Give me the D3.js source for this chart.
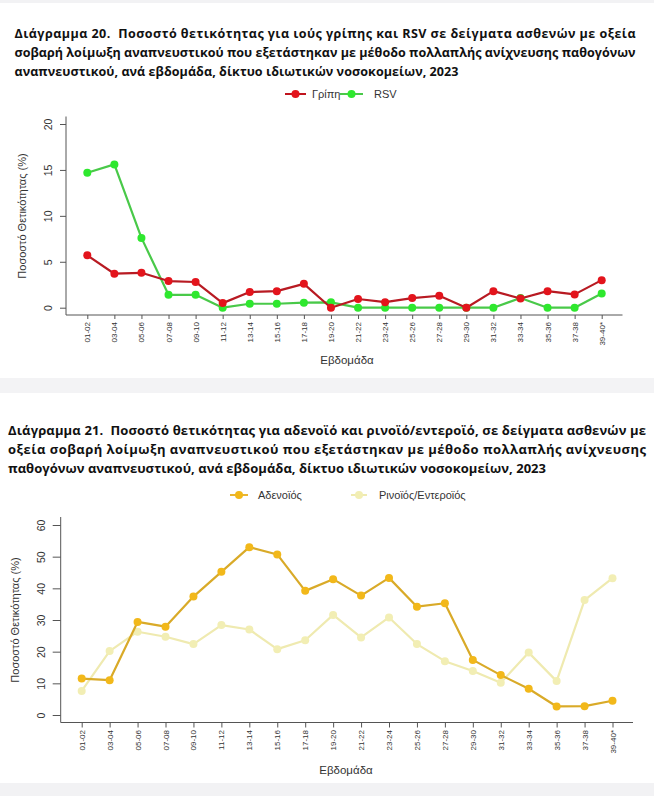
<!DOCTYPE html>
<html><head><meta charset="utf-8">
<script src="https://cdn.jsdelivr.net/npm/d3@7"></script>
<style>
html,body{margin:0;padding:0;background:#fff;}
svg{display:block;}
</style></head>
<body>
<svg id="c" width="654" height="796"></svg>
<script>
// ---- data ----
const weeks = ["01-02","03-04","05-06","07-08","09-10","11-12","13-14","15-16","17-18","19-20","21-22","23-24","25-26","27-28","29-30","31-32","33-34","35-36","37-38","39-40*"];
const flu = [5.7,3.7,3.8,2.9,2.8,0.5,1.7,1.8,2.6,0.0,0.95,0.6,1.05,1.3,0.0,1.8,1.0,1.8,1.45,3.0];
const rsv = [14.7,15.6,7.6,1.4,1.4,0.0,0.43,0.43,0.55,0.58,0.0,0.0,0.0,0.0,0.0,0.0,1.05,0.0,0.0,1.55];
const adeno = [11.5,11.0,29.4,27.9,37.4,45.2,53.0,50.7,39.2,42.9,37.7,43.3,34.2,35.3,17.4,12.6,8.3,2.7,2.8,4.5];
const rhino = [7.6,20.2,26.3,24.7,22.4,28.4,27.0,20.8,23.6,31.6,24.5,30.8,22.4,17.0,13.9,10.2,19.7,10.7,36.3,43.2];
const ticks1 = [0,5,10,15,20];
const ticks2 = [0,10,20,30,40,50,60];
const title1 = ["Διάγραμμα 20.  Ποσοστό θετικότητας για ιούς γρίπης και RSV σε δείγματα ασθενών με οξεία",
  "σοβαρή λοίμωξη αναπνευστικού που εξετάστηκαν με μέθοδο πολλαπλής ανίχνευσης παθογόνων",
  "αναπνευστικού, ανά εβδομάδα, δίκτυο ιδιωτικών νοσοκομείων, 2023"];
const title2 = ["Διάγραμμα 21.  Ποσοστό θετικότητας για αδενοϊό και ρινοϊό/εντεροϊό, σε δείγματα ασθενών με",
  "οξεία σοβαρή λοίμωξη αναπνευστικού που εξετάστηκαν με μέθοδο πολλαπλής ανίχνευσης",
  "παθογόνων αναπνευστικού, ανά εβδομάδα, δίκτυο ιδιωτικών νοσοκομείων, 2023"];
const yTitle = "Ποσοστό Θετικότητας (%)";
const xTitle = "Εβδομάδα";

const svg = d3.select("#c");
const AX = "Liberation Sans, Arial, sans-serif";
const TF = "Open Sans, Noto Sans, sans-serif";

// background bands
svg.append("rect").attr("x",0).attr("y",0).attr("width",654).attr("height",3).attr("fill","#f2f2f4");
svg.append("rect").attr("x",0).attr("y",378).attr("width",654).attr("height",15).attr("fill","#f3f3f5");
svg.append("rect").attr("x",0).attr("y",783).attr("width",654).attr("height",13).attr("fill","#f2f2f4");

function drawTitle(lines, x0, ys, widths){
  const base = 13.4;
  const nodes = lines.map((t,i)=>svg.append("text").attr("x",x0).attr("y",ys[i])
      .style("white-space","pre")
      .attr("font-family",TF).attr("font-weight",700).attr("font-size",base)
      .attr("fill","#111").text(t));
  // one font size per block so that the natural width fits each target width
  let k = 1;
  nodes.forEach((n,i)=>{ const w = n.node().getComputedTextLength(); k = Math.min(k, (widths[i]-2)/w); });
  nodes.forEach((n,i)=>{
    n.attr("font-size", base*k)
     .attr("textLength",widths[i]).attr("lengthAdjust","spacing");
  });
}
drawTitle(title1, 14.5, [38,57,76], [621,621,444]);
drawTitle(title2, 8, [435,454,473], [638,638,538]);

function chart(cfg){
  const g = svg.append("g");
  const x = d3.scalePoint().domain(weeks).range(cfg.xr);
  const y = d3.scaleLinear().domain(cfg.yd).range(cfg.yr);
  // axis frame lines (bty="l")
  g.append("line").attr("x1",cfg.px[0]).attr("x2",cfg.px[0]).attr("y1",cfg.py[0]).attr("y2",cfg.py[1]).attr("stroke","#555").attr("stroke-width",1);
  g.append("line").attr("x1",cfg.px[0]).attr("x2",cfg.px[1]).attr("y1",cfg.py[1]).attr("y2",cfg.py[1]).attr("stroke","#555").attr("stroke-width",1);
  // y axis
  const ya = g.append("g").attr("transform",`translate(${cfg.px[0]},0)`)
    .call(d3.axisLeft(y).tickValues(cfg.ticks).tickSize(cfg.tickLen).tickSizeOuter(0).tickPadding(0));
  ya.select(".domain").remove();
  ya.selectAll(".tick line").attr("stroke","#555");
  ya.selectAll(".tick text").attr("font-family",AX).attr("font-size",10.5).attr("fill","#333")
    .attr("text-anchor","middle").attr("x",0).attr("dy",0)
    .attr("transform",`translate(${cfg.ylabX - cfg.px[0]},0) rotate(-90)`).attr("y",0)
    .attr("dominant-baseline","central");
  // x axis
  const xa = g.append("g").attr("transform",`translate(0,${cfg.py[1]})`)
    .call(d3.axisBottom(x).tickSize(cfg.xTickLen).tickSizeOuter(0));
  xa.select(".domain").remove();
  xa.selectAll(".tick line").attr("stroke","#555");
  xa.selectAll(".tick text").attr("font-family",AX).attr("font-size",8).attr("fill","#333")
    .attr("text-anchor","end").attr("x",0).attr("dy",0).attr("y",0)
    .attr("dominant-baseline","central")
    .attr("transform",`translate(0,${cfg.xlabTop - cfg.py[1]}) rotate(-90)`);
  // titles
  g.append("text").attr("transform",`translate(${cfg.ytX},${cfg.ytY}) rotate(-90)`)
    .attr("text-anchor","middle").attr("dominant-baseline","central")
    .attr("font-family",AX).attr("font-size",11).attr("fill","#333").text(yTitle);
  g.append("text").attr("x",cfg.xtX).attr("y",cfg.xtY)
    .attr("text-anchor","middle").attr("dominant-baseline","central")
    .attr("font-family",AX).attr("font-size",11.5).attr("fill","#333").text(xTitle);
  // series
  const line = d3.line().x((d,i)=>x(weeks[i])).y(d=>y(d));
  cfg.series.forEach(s=>{
    g.append("path").datum(s.values).attr("d",line).attr("fill","none")
      .attr("stroke",s.line).attr("stroke-width",2.2).attr("stroke-linejoin","round");
    g.selectAll(null).data(s.values).enter().append("circle")
      .attr("cx",(d,i)=>x(weeks[i])).attr("cy",d=>y(d)).attr("r",cfg.r).attr("fill",s.marker);
  });
  // legend
  cfg.legend.forEach(l=>{
    g.append("line").attr("x1",l.x1).attr("x2",l.x2).attr("y1",cfg.legY).attr("y2",cfg.legY)
      .attr("stroke",l.line).attr("stroke-width",2);
    g.append("circle").attr("cx",(l.x1+l.x2)/2).attr("cy",cfg.legY).attr("r",cfg.r).attr("fill",l.marker);
    g.append("text").attr("x",l.tx).attr("y",cfg.legY).attr("dominant-baseline","central")
      .attr("font-family",AX).attr("font-size",11).attr("fill","#333").text(l.name);
  });
}

chart({
  xr:[87.3,601.7], yd:[0,20], yr:[307.7,124], px:[66,622.5], py:[116.5,315],
  ticks:ticks1, tickLen:6, ylabX:48, xTickLen:4, xlabTop:322,
  ytX:21.5, ytY:216, xtX:347, xtY:360, r:4,
  series:[
    {values:rsv, line:"#49c949", marker:"#2ee82e"},
    {values:flu, line:"#b81a22", marker:"#e3141c"}
  ],
  legY:94,
  legend:[
    {x1:285,x2:306,line:"#c0141e",marker:"#e3141c",name:"Γρίπη",tx:312},
    {x1:340,x2:363,line:"#49c949",marker:"#2ee82e",name:"RSV",tx:374}
  ]
});

chart({
  xr:[81.7,612.5], yd:[0,60], yr:[715,525], px:[60.7,633], py:[517,722.5],
  ticks:ticks2, tickLen:8, ylabX:40.7, xTickLen:5, xlabTop:730,
  ytX:15, ytY:620, xtX:346, xtY:770, r:4,
  series:[
    {values:rhino, line:"#efeab0", marker:"#f2eeb4"},
    {values:adeno, line:"#d9aa28", marker:"#f2b81a"}
  ],
  legY:495,
  legend:[
    {x1:230,x2:248,line:"#e9b530",marker:"#f2b81a",name:"Αδενοϊός",tx:258},
    {x1:351,x2:367,line:"#efeab0",marker:"#f2eeb4",name:"Ρινοϊός/Εντεροϊός",tx:379}
  ]
});
</script>
</body></html>
